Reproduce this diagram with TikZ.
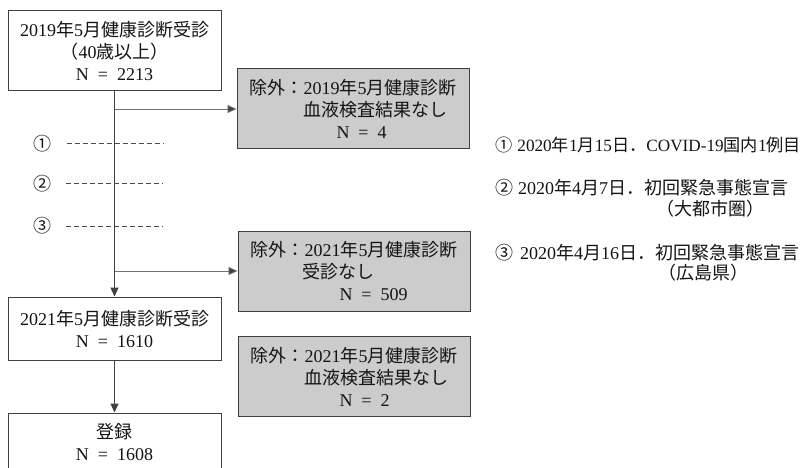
\documentclass[tikz,border=0pt]{standalone}
\usepackage{fontspec}
\setmainfont{Liberation Serif}
\newfontfamily\cjk{Noto Sans CJK JP}
\newcommand{\J}[1]{{\cjk #1}}
\newcommand{\Neq}{N\enspace=\enspace}
\usetikzlibrary{arrows.meta}
\begin{document}
\begin{tikzpicture}[x=1pt,y=-1pt,
  txt/.style={font=\fontsize{18}{22}\selectfont, text=black!92},
  box/.style={txt, draw=black!75, line width=1pt, fill=white, minimum width=213pt, inner sep=0pt, align=center},
  exbox/.style={box, fill=black!20, minimum width=232pt, minimum height=80pt, align=left},
  flow/.style={draw=black!75, line width=1.1pt, -{Triangle[length=9pt,width=8pt]}},
  side/.style={draw=black!55, line width=0.8pt, -{Triangle[length=9pt,width=8pt,fill=black!75]}},
  mark line/.style={draw=black!70, line width=1pt, dash pattern=on 5pt off 3pt},
  note/.style={txt, anchor=west, inner sep=0pt}
]
\clip (0,0) rectangle (809,468);
\fill[white] (0,0) rectangle (809,468);

% main flow boxes
\node[box, minimum height=80pt] (b1) at (114.5,51)
  {2019\J{年}5\J{月健康診断受診}\\\J{（}40\J{歳以上）}\\\Neq 2213};
\node[box, minimum height=63pt] (b4) at (114.5,328.5)
  {2021\J{年}5\J{月健康診断受診}\\\Neq 1610};
\node[box, minimum height=58pt] (b5) at (114.5,442)
  {\J{登録}\\\Neq 1608};

% exclusion boxes
\node[exbox] (e1) at (353,109)
  {\J{除外：}2019\J{年}5\J{月健康診断}\\\hspace*{54pt}\J{血液検査結果なし}\\\hspace*{87pt}\Neq 4};
\node[exbox] (e2) at (354,271)
  {\J{除外：}2021\J{年}5\J{月健康診断}\\\hspace*{52pt}\J{受診なし}\\\hspace*{89pt}\Neq 509};
\node[exbox] (e3) at (354,376.5)
  {\J{除外：}2021\J{年}5\J{月健康診断}\\\hspace*{54pt}\J{血液検査結果なし}\\\hspace*{89pt}\Neq 2};

% connectors
\draw[flow] (b1.south) -- (b4.north);
\draw[side] (b1.south |- e1.west) -- (e1.west);
\draw[side] (b1.south |- e2.west) -- (e2.west);
\draw[flow] (b4.south) -- (b5.north);

% event markers
\node[txt, inner sep=0pt] (m1) at (43,144) {\J{①}};
\node[txt, inner sep=0pt] (m2) at (43,184) {\J{②}};
\node[txt, inner sep=0pt] (m3) at (43,226) {\J{③}};
\coordinate (d1s) at (67,144); \coordinate (d1e) at (164,144);
\coordinate (d2s) at (66,184); \coordinate (d2e) at (163,184);
\coordinate (d3s) at (66,226); \coordinate (d3e) at (163,226);
\draw[mark line] (d1s) -- (d1e);
\draw[mark line] (d2s) -- (d2e);
\draw[mark line] (d3s) -- (d3e);

% legend
\node[note, font=\fontsize{17.2}{21}\selectfont] (n1) at (495,145)
  {\J{①}\hspace{5pt}2020\J{年}1\J{月}15\J{日．}COVID-19\J{国内}1\J{例目}};
\node[note] (n2) at (495,188)
  {\J{②}\hspace{5pt}2020\J{年}4\J{月}7\J{日．初回緊急事態宣言}};
\node[note] (n2b) at (656,209) {\J{（大都市圏）}};
\node[note] (n3) at (495,253)
  {\J{③}\hspace{7pt}2020\J{年}4\J{月}16\J{日．初回緊急事態宣言}};
\node[note] (n3b) at (658,273) {\J{（広島県）}};
\end{tikzpicture}
\end{document}
